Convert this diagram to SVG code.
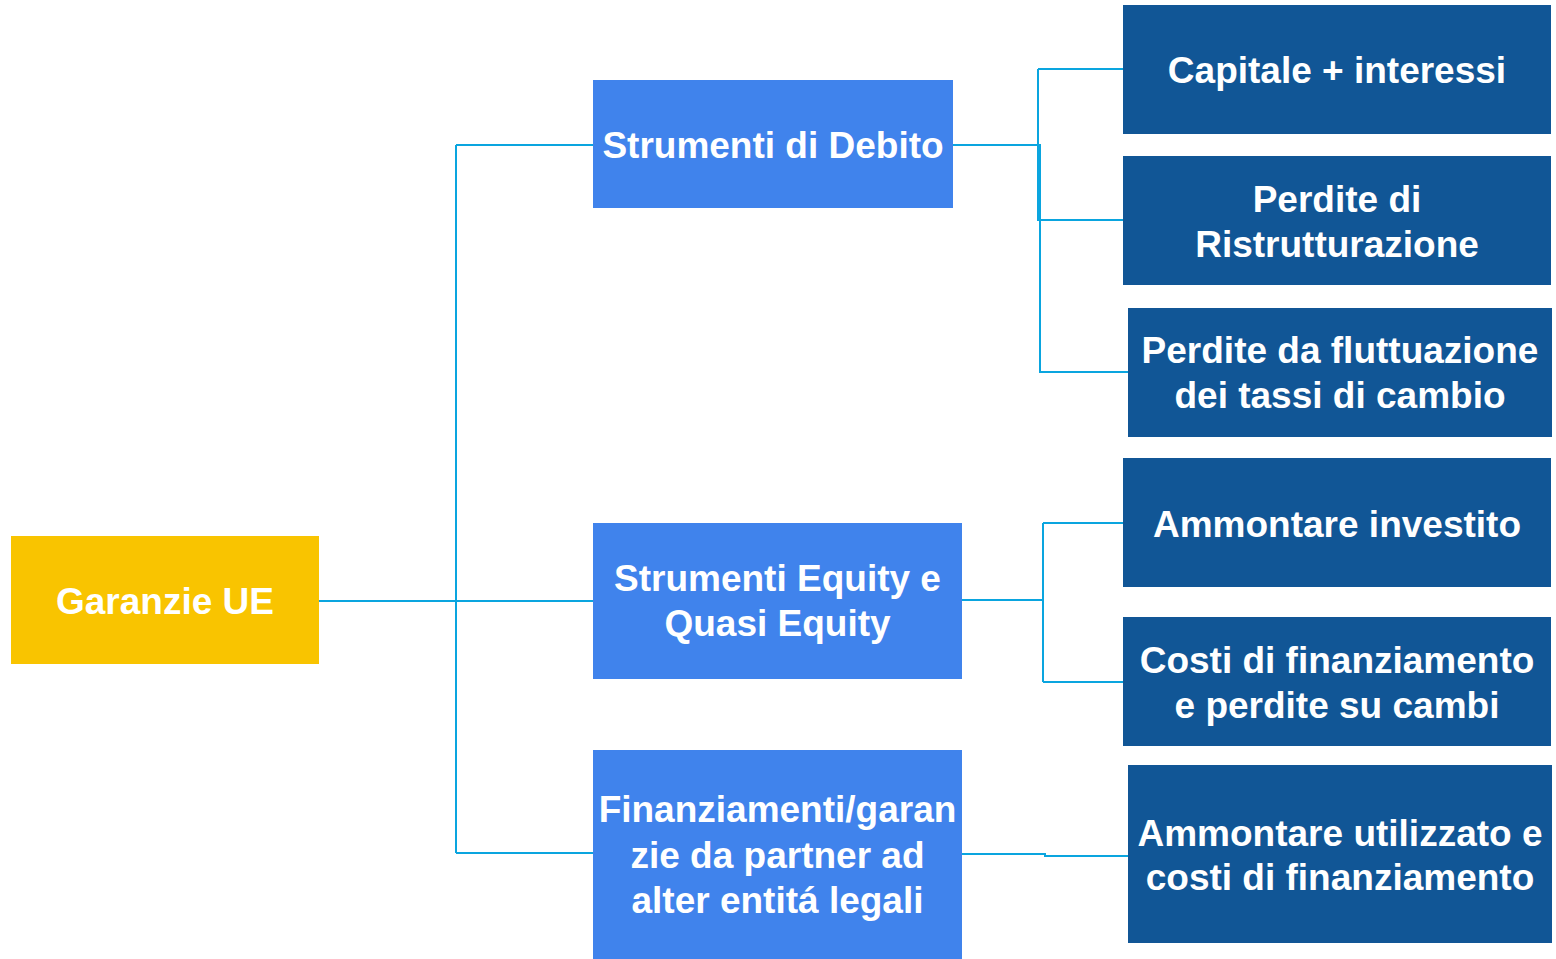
<svg xmlns="http://www.w3.org/2000/svg" width="1556" height="959" viewBox="0 0 1556 959">
<style>
.t{font-family:"Liberation Sans",Arial,sans-serif;font-weight:bold;font-size:37px;fill:#ffffff;text-anchor:middle}
.root{fill:#F9C400}
.mid{fill:#4083EC}
.leaf{fill:#115696}
.c{fill:none;stroke:#0AA5DF;stroke-width:2}
</style>
<rect width="1556" height="959" fill="#ffffff"/>
<g id="connectors">
<path class="c" d="M319 601 H593"/>
<path class="c" d="M456 145 V853"/>
<path class="c" d="M456 145 H593"/>
<path class="c" d="M456 853 H593"/>
<path class="c" d="M953 145 H1040 V372 H1128"/>
<path class="c" d="M1038 69 H1123"/>
<path class="c" d="M1038 69 V220 H1123"/>
<path class="c" d="M962 600 H1043"/>
<path class="c" d="M1043 523 V682"/>
<path class="c" d="M1043 523 H1123"/>
<path class="c" d="M1043 682 H1123"/>
<path class="c" d="M962 854 H1045 V856 H1128"/>
</g>
<g id="garanzie">
<rect class="root" x="11" y="536" width="308" height="128"/>
<text class="t" x="165" y="614">Garanzie UE</text>
</g>
<g id="debito">
<rect class="mid" x="593" y="80" width="360" height="128"/>
<text class="t" x="773" y="158">Strumenti di Debito</text>
</g>
<g id="equity">
<rect class="mid" x="593" y="523" width="369" height="156"/>
<text class="t" x="777.5" y="591">Strumenti Equity e</text>
<text class="t" x="777.5" y="636">Quasi Equity</text>
</g>
<g id="finanziamenti">
<rect class="mid" x="593" y="750" width="369" height="209"/>
<text class="t" x="777.5" y="822">Finanziamenti/garan</text>
<text class="t" x="777.5" y="868">zie da partner ad</text>
<text class="t" x="777.5" y="913">alter entitá legali</text>
</g>
<g id="capitale">
<rect class="leaf" x="1123" y="5" width="428" height="129"/>
<text class="t" x="1337" y="83">Capitale + interessi</text>
</g>
<g id="ristrutturazione">
<rect class="leaf" x="1123" y="156" width="428" height="129"/>
<text class="t" x="1337" y="212">Perdite di</text>
<text class="t" x="1337" y="257">Ristrutturazione</text>
</g>
<g id="fluttuazione">
<rect class="leaf" x="1128" y="308" width="424" height="129"/>
<text class="t" x="1340" y="363">Perdite da fluttuazione</text>
<text class="t" x="1340" y="408">dei tassi di cambio</text>
</g>
<g id="investito">
<rect class="leaf" x="1123" y="458" width="428" height="129"/>
<text class="t" x="1337" y="537">Ammontare investito</text>
</g>
<g id="costi">
<rect class="leaf" x="1123" y="617" width="428" height="129"/>
<text class="t" x="1337" y="673">Costi di finanziamento</text>
<text class="t" x="1337" y="718">e perdite su cambi</text>
</g>
<g id="utilizzato">
<rect class="leaf" x="1128" y="765" width="424" height="178"/>
<text class="t" x="1340" y="846">Ammontare utilizzato e</text>
<text class="t" x="1340" y="890">costi di finanziamento</text>
</g>
</svg>
